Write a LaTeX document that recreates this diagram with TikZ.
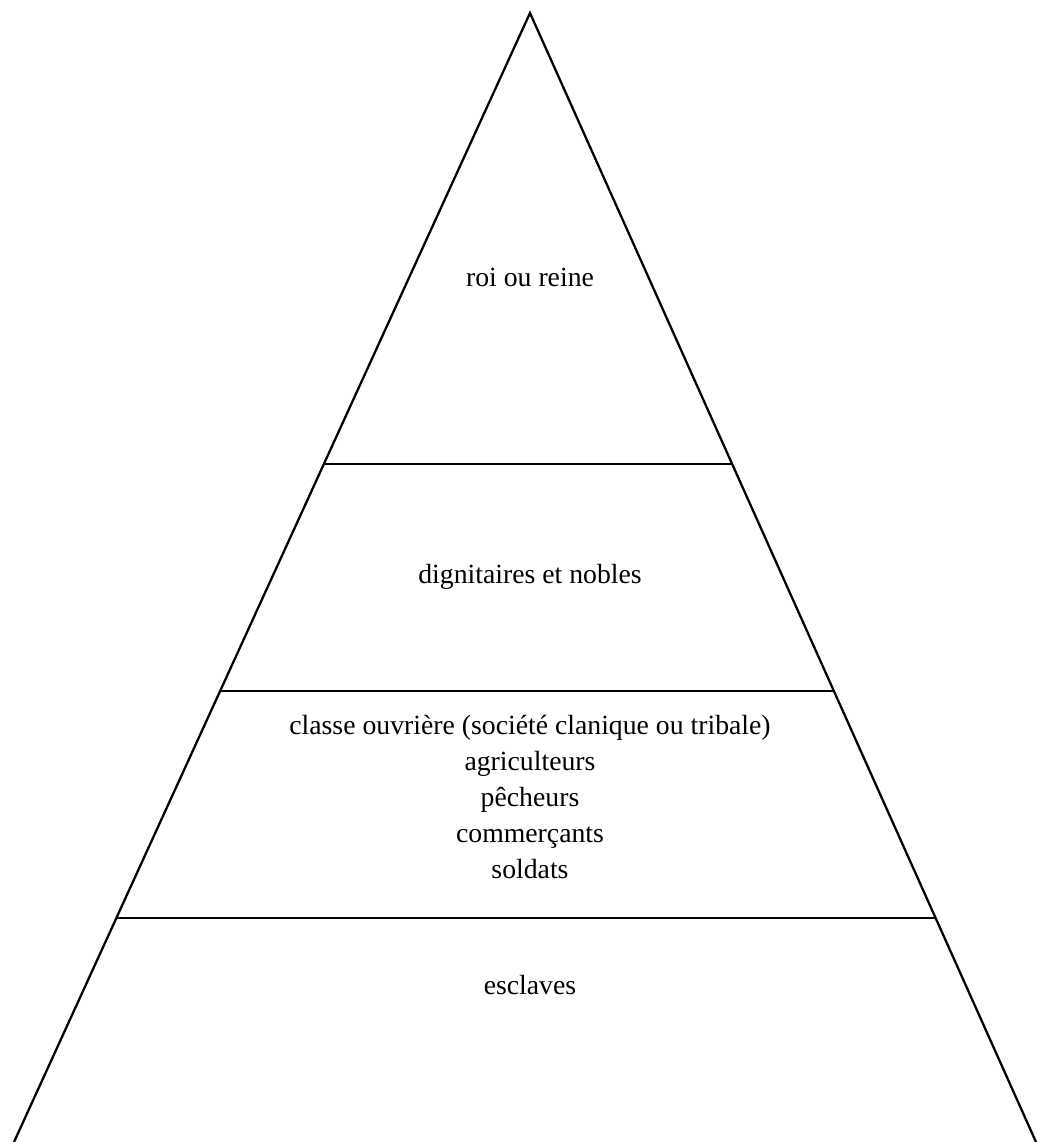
\documentclass[tikz,border=0pt]{standalone}
\usepackage{fontspec}
\setmainfont{Liberation Serif}
\usetikzlibrary{positioning,calc}

\begin{document}
\begin{tikzpicture}[
  x=0.75pt, y=-0.75pt,
  font=\fontsize{20.8}{27}\selectfont,
  % Line Styles
  edge_line/.style={line width=1.7pt, black},
  level_line/.style={line width=1.7pt, black},
  % Label Styles
  lbl/.style={align=center, inner sep=0pt}
]
\useasboundingbox (0,0) rectangle (1037,1142);

% ================= PYRAMID =================
\coordinate (apex) at (530,13);
\coordinate (base_l) at (14,1142);
\coordinate (base_r) at (1036,1142);

\draw[edge_line] (base_l) -- (apex) -- (base_r);

% --- Levels ---
\draw[level_line] ($(apex)!0.3995!(base_l)$) -- ($(apex)!0.3995!(base_r)$);
\draw[level_line] ($(apex)!0.6005!(base_l)$) -- ($(apex)!0.6005!(base_r)$);
\draw[level_line] ($(apex)!0.8017!(base_l)$) -- ($(apex)!0.8017!(base_r)$);

% ================= LABELS =================
\node[lbl] (king)    at (530,277) {roi ou reine};
\node[lbl] (nobles)  at (530,577) {dignitaires et nobles};
\node[lbl] (workers) at (530,797) {classe ouvrière (société clanique ou tribale)\\agriculteurs\\pêcheurs\\commerçants\\soldats};
\node[lbl] (slaves)  at (530,985) {esclaves};

\end{tikzpicture}
\end{document}
